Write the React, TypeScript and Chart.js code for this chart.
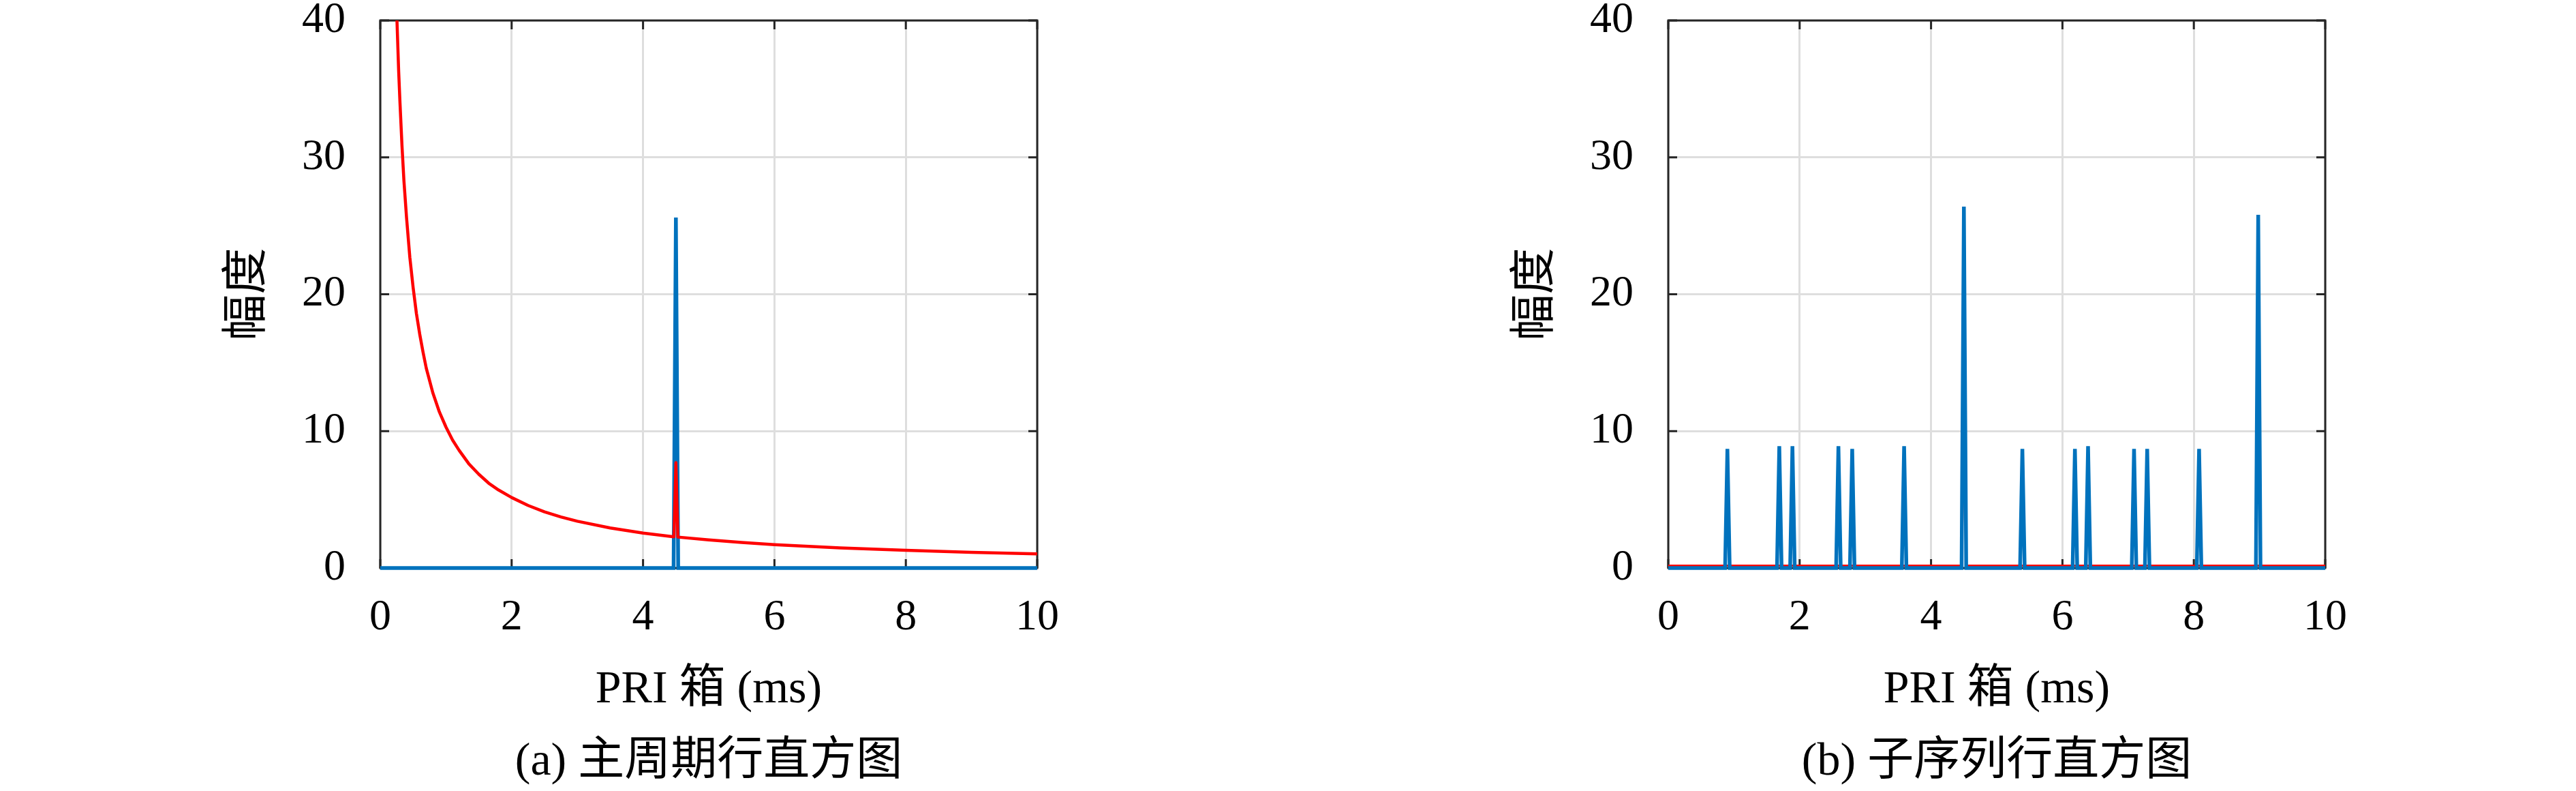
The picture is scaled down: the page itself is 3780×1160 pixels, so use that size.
import React, { useEffect, useRef } from "react";
import { Chart, registerables } from "chart.js";

Chart.register(...registerables);

// ---------- data ----------
const xTicks = [0, 2, 4, 6, 8, 10];
const yTicks = [0, 10, 20, 30, 40];
const BIN_HALF_WIDTH = 0.035; // half width of one histogram bin (ms)

// (a) main-period histogram
const mainPeakPRI = [4.5];
const mainPeakAmp = [25.6];
const mainThresholdX = [0.22, 0.25, 0.28, 0.3, 0.33, 0.36, 0.4, 0.45, 0.5, 0.55, 0.6, 0.65, 0.7, 0.8, 0.9, 1.0, 1.1, 1.2, 1.35, 1.5, 1.65, 1.8, 2.0, 2.25, 2.5, 2.75, 3.0, 3.5, 4.0, 4.47, 4.5, 4.53, 5.0, 5.5, 6.0, 7.0, 8.0, 9.0, 10.0];
const mainThresholdY = [46, 40.6, 36.3, 34, 30.9, 28.3, 25.6, 22.7, 20.5, 18.6, 17.1, 15.8, 14.6, 12.8, 11.4, 10.3, 9.35, 8.6, 7.6, 6.85, 6.2, 5.7, 5.15, 4.57, 4.1, 3.73, 3.42, 2.93, 2.55, 2.28, 7.7, 2.26, 2.05, 1.87, 1.71, 1.47, 1.29, 1.15, 1.03];

// (b) sub-sequence histogram
const subPeakPRI = [0.9, 1.69, 1.89, 2.59, 2.8, 3.59, 4.5, 5.39, 6.19, 6.39, 7.09, 7.29, 8.08, 8.98];
const subPeakAmp = [8.7, 8.9, 8.9, 8.9, 8.7, 8.9, 26.4, 8.7, 8.7, 8.9, 8.7, 8.7, 8.7, 25.8];
const subThresholdX = [0, 4.465, 4.5, 4.535, 10];
const subThresholdY = [0.18, 0.18, 9.0, 0.18, 0.18];

const xLabel = "PRI 箱 (ms)";
const yLabel = "幅度";
const captionA = "(a) 主周期行直方图";
const captionB = "(b) 子序列行直方图";

// ---------- helpers ----------
const FONT = '"Liberation Serif", "Noto Sans CJK SC", serif';
const BLUE = "#0072BD";
const RED = "#FF0000";

function peakSeries(pri: number[], amp: number[]) {
  const pts: { x: number; y: number }[] = [{ x: 0, y: 0 }];
  pri.forEach((p, i) => {
    pts.push({ x: p - BIN_HALF_WIDTH, y: 0 }, { x: p, y: amp[i] }, { x: p + BIN_HALF_WIDTH, y: 0 });
  });
  pts.push({ x: 10, y: 0 });
  return pts;
}

function zip(xs: number[], ys: number[]) {
  return xs.map((x, i) => ({ x, y: ys[i] }));
}

const framePlugin = {
  id: "frame",
  beforeDatasetsDraw(chart: any) {
    const { ctx, chartArea, scales } = chart;
    const { left, right, top, bottom } = chartArea;
    const L = 13;
    ctx.save();
    ctx.strokeStyle = "#262626";
    ctx.lineWidth = 3;
    ctx.strokeRect(left, top, right - left, bottom - top);
    ctx.beginPath();
    xTicks.forEach((v) => {
      const px = scales.x.getPixelForValue(v);
      ctx.moveTo(px, bottom);
      ctx.lineTo(px, bottom - L);
      ctx.moveTo(px, top);
      ctx.lineTo(px, top + L);
    });
    yTicks.forEach((v) => {
      const py = scales.y.getPixelForValue(v);
      ctx.moveTo(left, py);
      ctx.lineTo(left + L, py);
      ctx.moveTo(right, py);
      ctx.lineTo(right - L, py);
    });
    ctx.stroke();
    ctx.restore();
  },
  afterDraw(chart: any, _args: any, opts: any) {
    const { ctx, chartArea } = chart;
    ctx.save();
    ctx.fillStyle = "#000";
    ctx.font = `68px ${FONT}`;
    ctx.textAlign = "center";
    ctx.textBaseline = "middle";
    ctx.fillText(opts.caption, (chartArea.left + chartArea.right) / 2, 1118);
    ctx.restore();
  },
};

function makeConfig(datasets: any[], caption: string): any {
  return {
    type: "line",
    data: { datasets },
    plugins: [framePlugin],
    options: {
      animation: false,
      responsive: false,
      events: [],
      layout: { padding: { top: 30, right: 368, bottom: 0, left: 0 } },
      plugins: {
        legend: { display: false },
        tooltip: { enabled: false },
        frame: { caption },
      },
      elements: { point: { radius: 0 } },
      scales: {
        x: {
          type: "linear",
          position: "bottom",
          min: 0,
          max: 10,
          afterBuildTicks: (s: any) => {
            s.ticks = xTicks.map((v) => ({ value: v }));
          },
          afterFit: (s: any) => {
            s.height = 327;
            s.paddingLeft = 0;
            s.paddingRight = 0;
          },
          ticks: {
            font: { family: FONT, size: 64, lineHeight: 1.2 },
            color: "#000",
            padding: 35,
            maxRotation: 0,
            autoSkip: false,
          },
          grid: { color: "#dedede", lineWidth: 3, drawTicks: false },
          border: { display: false },
          title: {
            display: true,
            text: xLabel,
            color: "#000",
            font: { family: FONT, size: 68, lineHeight: 1.2 },
            padding: { top: 0, bottom: 107 },
          },
        },
        y: {
          type: "linear",
          position: "left",
          min: 0,
          max: 40,
          afterBuildTicks: (s: any) => {
            s.ticks = yTicks.map((v) => ({ value: v }));
          },
          afterFit: (s: any) => {
            s.width = 558;
            s.paddingTop = 0;
            s.paddingBottom = 0;
          },
          ticks: {
            font: { family: FONT, size: 64, lineHeight: 1.2 },
            color: "#000",
            padding: 51,
          },
          grid: { color: "#dedede", lineWidth: 3, drawTicks: false },
          border: { display: false },
          title: {
            display: true,
            text: yLabel,
            color: "#000",
            font: { family: FONT, size: 68, lineHeight: 1.2 },
            padding: { top: 324, bottom: 0 },
          },
        },
      },
    },
  };
}

const CLIP = { left: 3, right: 3, top: 0, bottom: 4 };

function ChartPanel({ config, left }: { config: any; left: number }) {
  const ref = useRef<HTMLCanvasElement | null>(null);
  useEffect(() => {
    if (!ref.current) return;
    const chart = new Chart(ref.current, config);
    return () => chart.destroy();
  }, [config]);
  return (
    <canvas
      ref={ref}
      width={1890}
      height={1160}
      style={{ position: "absolute", left, top: 0, width: 1890, height: 1160 }}
    />
  );
}

const configA = makeConfig(
  [
    {
      label: "threshold",
      data: zip(mainThresholdX, mainThresholdY),
      borderColor: RED,
      borderWidth: 4.5,
      tension: 0,
      borderJoinStyle: "round",
      clip: CLIP,
    },
    {
      label: "histogram",
      data: peakSeries(mainPeakPRI, mainPeakAmp),
      borderColor: BLUE,
      borderWidth: 5.5,
      tension: 0,
      clip: CLIP,
    },
  ],
  captionA
);

const configB = makeConfig(
  [
    {
      label: "histogram",
      data: peakSeries(subPeakPRI, subPeakAmp),
      borderColor: BLUE,
      borderWidth: 5.5,
      tension: 0,
      clip: CLIP,
    },
    {
      label: "threshold",
      data: zip(subThresholdX, subThresholdY),
      borderColor: RED,
      borderWidth: 3,
      tension: 0,
      clip: CLIP,
    },
  ],
  captionB
);

export default function App() {
  return (
    <div
      style={{
        position: "absolute",
        left: 0,
        top: 0,
        width: 3780,
        height: 1160,
        background: "#fff",
        overflow: "hidden",
      }}
    >
      <ChartPanel config={configA} left={0} />
      <ChartPanel config={configB} left={1890} />
    </div>
  );
}
